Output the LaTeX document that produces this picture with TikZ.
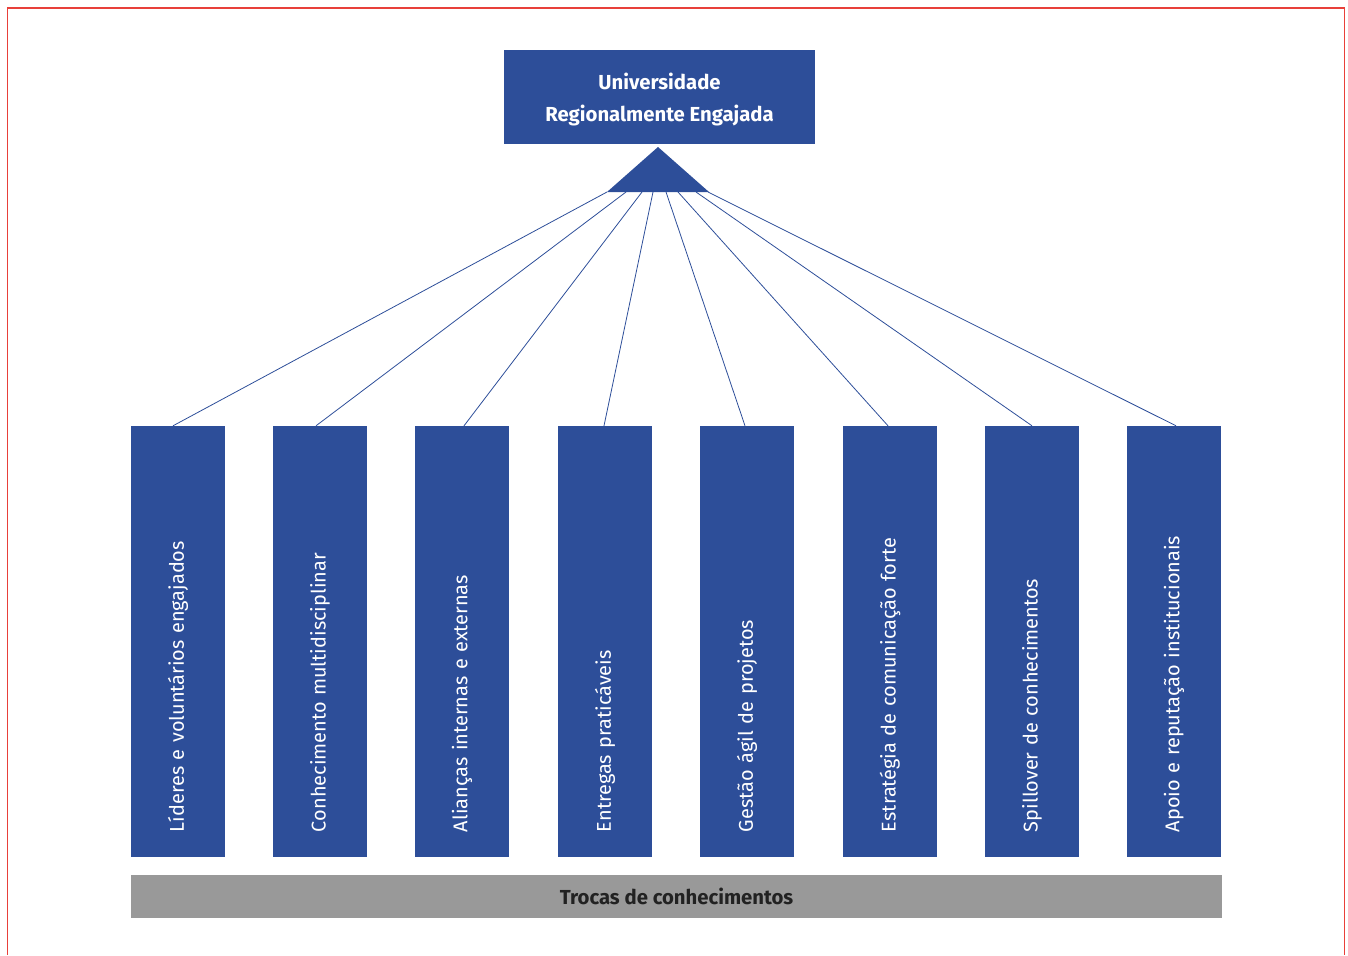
\documentclass[tikz,border=0pt]{standalone}
\usepackage{fontspec}
\setmainfont{Fira Sans}
\newfontfamily\pillarfont{Fira Sans}[WordSpace=0.75]
\usetikzlibrary{calc}
\definecolor{uniblue}{HTML}{2D4E99}
\definecolor{bargray}{HTML}{999999}
\definecolor{framered}{HTML}{E8403A}
\definecolor{bartext}{HTML}{222222}
\begin{document}
\begin{tikzpicture}[x=1pt,y=-1pt,
  topbox/.style={fill=uniblue, draw=none, minimum width=311pt, minimum height=94pt, inner sep=0pt,
    text=white, font=\bfseries\fontsize{20.3}{32}\selectfont, align=center},
  pillar/.style={fill=uniblue, draw=none, rotate=90, minimum width=431pt, minimum height=94pt,
    inner xsep=25pt, inner ysep=0pt, text width=381pt, align=left, text=white,
    font=\pillarfont\fontsize{19.9}{22}\selectfont},
  basebar/.style={fill=bargray, draw=none, minimum width=1091pt, minimum height=43pt, inner sep=0pt,
    text=bartext, font=\bfseries\fontsize{20.3}{22}\selectfont},
  link/.style={draw=uniblue, line width=0.8pt},
  frame/.style={draw=framered, line width=1.6pt}
]
\useasboundingbox (0,0) rectangle (1348,955);
\draw[frame] (7.5,955) -- (7.5,8) -- (1344.5,8) -- (1344.5,955);

\fill[uniblue] (504,50) rectangle (815,144);
\node[topbox, fill=none, minimum width=0pt, minimum height=0pt] (top) at (659.5,100) {Universidade\\Regionalmente Engajada};

\coordinate (apex) at (658,147);
\coordinate (bl) at (607,192);
\coordinate (br) at (709,192);
\fill[uniblue] (apex) -- (br) -- (bl) -- cycle;

\foreach \i/\sx in {1/607,2/626,3/642,4/653,5/666,6/678,7/696,8/708}
  \coordinate (s\i) at (\sx,192);

\node[pillar] (b1) at (178,641.5) {Líderes e voluntários engajados};
\node[pillar] (b2) at (320,641.5) {Conhecimento multidisciplinar};
\node[pillar] (b3) at (462,641.5) {Alianças internas e externas};
\node[pillar] (b4) at (605,641.5) {Entregas praticáveis};
\node[pillar] (b5) at (747,641.5) {Gestão ágil de projetos};
\node[pillar] (b6) at (890,641.5) {Estratégia de comunicação forte};
\node[pillar] (b7) at (1032,641.5) {Spillover de conhecimentos};
\node[pillar] (b8) at (1174,641.5) {Apoio e reputação institucionais};

\draw[link] (s1) -- ($(b1.east)+(-5,0)$);
\draw[link] (s2) -- ($(b2.east)+(-4,0)$);
\draw[link] (s3) -- ($(b3.east)+(2,0)$);
\draw[link] (s4) -- ($(b4.east)+(-1,0)$);
\draw[link] (s5) -- ($(b5.east)+(-2,0)$);
\draw[link] (s6) -- ($(b6.east)+(-2,0)$);
\draw[link] (s7) -- (b7.east);
\draw[link] (s8) -- ($(b8.east)+(2,0)$);

\node[basebar] (bar) at (676.5,896.5) {Trocas de conhecimentos};
\end{tikzpicture}
\end{document}
